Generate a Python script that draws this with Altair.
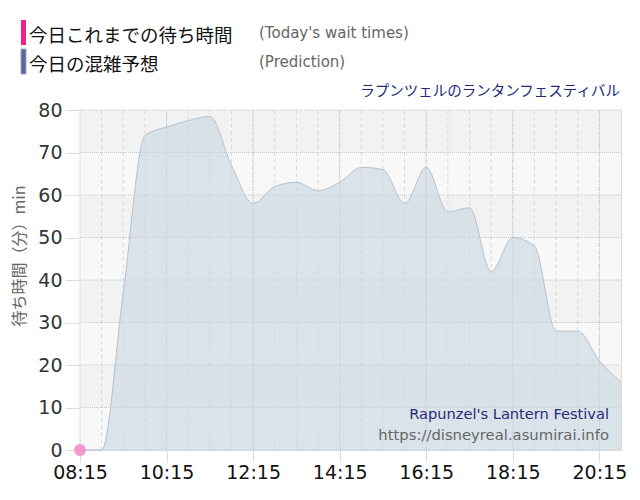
import altair as alt
import pandas as pd
import numpy as np

# ---- data ----
times = ["08:15", "08:45", "09:15", "09:45", "10:15", "10:45", "11:15", "11:45",
         "12:15", "12:45", "13:15", "13:45", "14:15", "14:45", "15:15", "15:45",
         "16:15", "16:45", "17:15", "17:45", "18:15", "18:45", "19:15", "19:45",
         "20:15", "20:45"]
prediction = [0, 0, 37, 74, 76, 77.5, 78.5, 67, 58, 62, 63, 61, 63, 66.5, 66, 58,
              66.5, 56, 57, 42, 50, 48, 28, 28, 21, 16]

actual_times = ["08:15"]
actual_values = [0]

x_ticks = ["08:15", "10:15", "12:15", "14:15", "16:15", "18:15", "20:15"]
y_ticks = [0, 10, 20, 30, 40, 50, 60, 70, 80]

legend_labels = ["今日これまでの待ち時間", "今日の混雑予想"]
legend_notes = ["(Today's wait times)", "(Prediction)"]
title_ja = "ラプンツェルのランタンフェスティバル"
title_en = "Rapunzel's Lantern Festival"
url_text = "https://disneyreal.asumirai.info"
y_title = "待ち時間（分）min"


def to_h(s):
    h, m = s.split(":")
    return int(h) + int(m) / 60.0


W, H = 541, 340
X0, X1 = to_h("08:15"), to_h("20:45")

df = pd.DataFrame({"t": [to_h(s) for s in times], "v": prediction})
df_act = pd.DataFrame({"t": [to_h(s) for s in actual_times], "v": actual_values})
bands = pd.DataFrame({"lo": y_ticks[:-1], "hi": y_ticks[1:]})
minor_grid = pd.DataFrame({"t": np.arange(X0 + 0.5, X1, 0.5)})
major_grid = pd.DataFrame({"t": [to_h(s) for s in x_ticks]})
hgrid = pd.DataFrame({"v": y_ticks})

label_expr = ("timeFormat(datetime(2000,0,1,floor(datum.value),"
              "round((datum.value-floor(datum.value))*60)),'%H:%M')")

xscale = alt.Scale(domain=[X0, X1], nice=False, zero=False)
yscale = alt.Scale(domain=[0, 80], nice=False)

xaxis = alt.Axis(values=[to_h(s) for s in x_ticks], labelExpr=label_expr, title=None,
                 grid=False, domain=False, tickColor="#dddddd", tickSize=12,
                 labelFont="DejaVu Sans", labelFontSize=19, labelColor="#111111",
                 labelPadding=1, labelFlush=False)
yaxis = alt.Axis(values=y_ticks, title=None, grid=False, domainColor="#b0b0b0",
                 tickColor="#dddddd", tickSize=15, labelFont="DejaVu Sans",
                 labelFontSize=19, labelColor="#333333", labelPadding=3)

band_layer = alt.Chart(bands).mark_rect().encode(
    x=alt.value(0), x2=alt.value(W),
    y=alt.Y("lo:Q", scale=yscale, axis=yaxis), y2="hi:Q",
    color=alt.when(alt.datum.lo % 20 == 0).then(alt.value("#f8f8f8")).otherwise(alt.value("#f2f2f2")),
)

minor_layer = alt.Chart(minor_grid).mark_rule(color="#d9d9d9", strokeDash=[4, 3], strokeWidth=1).encode(
    x=alt.X("t:Q", scale=xscale, axis=xaxis), y=alt.value(0), y2=alt.value(H)
)
major_layer = alt.Chart(major_grid).mark_rule(color="#c4c4c4", strokeDash=[1, 1], strokeWidth=1).encode(
    x=alt.X("t:Q", scale=xscale), y=alt.value(0), y2=alt.value(H)
)
h_layer = alt.Chart(hgrid).mark_rule(color="#c8c8c8", strokeDash=[1, 1], strokeWidth=1).encode(
    y=alt.Y("v:Q", scale=yscale), x=alt.value(0), x2=alt.value(W)
)

area_layer = alt.Chart(df).mark_area(
    interpolate="monotone", color="#c8d6e2", opacity=0.62,
    line=alt.OverlayMarkDef(color="#b4c2cf", strokeWidth=1, opacity=1)
).encode(x=alt.X("t:Q", scale=xscale), y=alt.Y("v:Q", scale=yscale))

point_layer = alt.Chart(df_act).mark_circle(size=140, color="#f28cc8", opacity=0.9).encode(
    x=alt.X("t:Q", scale=xscale), y=alt.Y("v:Q", scale=yscale)
)


def txt(s, x, y, size, color, font, align="left", angle=0):
    kw = dict(align=align, baseline="middle", fontSize=size, color=color, font=font)
    if angle:
        kw["angle"] = angle
    return alt.Chart(pd.DataFrame({"s": [s]})).mark_text(**kw).encode(
        text="s:N", x=alt.value(x), y=alt.value(y))


ja = "Noto Sans CJK JP"
bar1 = alt.Chart(pd.DataFrame({"k": [0]})).mark_rect(color="#f0208c").encode(
    x=alt.value(-59), x2=alt.value(-54), y=alt.value(-90), y2=alt.value(-65))
bar2 = alt.Chart(pd.DataFrame({"k": [0]})).mark_rect(color="#5b6797", stroke="#9aa3c4", strokeWidth=1).encode(
    x=alt.value(-59), x2=alt.value(-54), y=alt.value(-61), y2=alt.value(-36))

texts = [
    txt(legend_labels[0], -51, -74, 18.5, "#111111", ja),
    txt(legend_notes[0], 179, -77, 15, "#666666", "DejaVu Sans"),
    txt(legend_labels[1], -51, -45, 18.5, "#111111", ja),
    txt(legend_notes[1], 179, -48, 15, "#666666", "DejaVu Sans"),
    txt(title_ja, 540, -18, 14.5, "#222a78", ja, align="right"),
    txt(title_en, 529, 305, 14.6, "#262c78", "DejaVu Sans", align="right"),
    txt(url_text, 529, 326, 14.8, "#666666", "DejaVu Sans", align="right"),
    txt(y_title, -60, 146, 16, "#666666", ja, align="center", angle=270),
]

chart = alt.layer(
    band_layer, minor_layer, major_layer, h_layer, area_layer, point_layer,
    bar1, bar2, *texts
).properties(
    width=W, height=H,
    autosize=alt.AutoSizeParams(type="none"),
    padding={"left": 72, "top": 102, "right": 11, "bottom": 42},
).configure_view(stroke=None).configure(background="white")

chart.save("out.html", embed_options={"renderer": "svg", "actions": False})
